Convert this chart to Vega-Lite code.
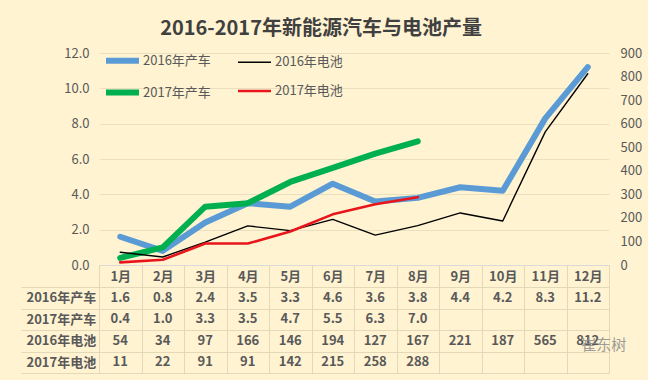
{
  "$schema": "https://vega.github.io/schema/vega-lite/v6.json",
  "background": "#FFF3D2",
  "padding": {"left": 20, "top": 19, "right": 6, "bottom": 6},
  "title": {"text": "2016-2017年新能源汽车与电池产量", "fontSize": 20, "font": "Noto Sans CJK SC", "fontWeight": "bold", "color": "#404040", "anchor": "middle", "offset": 2, "dx": -10},
  "datasets": {
    "d": [
      {"month": "1月", "series": "2016年产车", "value": 1.6},
      {"month": "2月", "series": "2016年产车", "value": 0.8},
      {"month": "3月", "series": "2016年产车", "value": 2.4},
      {"month": "4月", "series": "2016年产车", "value": 3.5},
      {"month": "5月", "series": "2016年产车", "value": 3.3},
      {"month": "6月", "series": "2016年产车", "value": 4.6},
      {"month": "7月", "series": "2016年产车", "value": 3.6},
      {"month": "8月", "series": "2016年产车", "value": 3.8},
      {"month": "9月", "series": "2016年产车", "value": 4.4},
      {"month": "10月", "series": "2016年产车", "value": 4.2},
      {"month": "11月", "series": "2016年产车", "value": 8.3},
      {"month": "12月", "series": "2016年产车", "value": 11.2},
      {"month": "1月", "series": "2017年产车", "value": 0.4},
      {"month": "2月", "series": "2017年产车", "value": 1.0},
      {"month": "3月", "series": "2017年产车", "value": 3.3},
      {"month": "4月", "series": "2017年产车", "value": 3.5},
      {"month": "5月", "series": "2017年产车", "value": 4.7},
      {"month": "6月", "series": "2017年产车", "value": 5.5},
      {"month": "7月", "series": "2017年产车", "value": 6.3},
      {"month": "8月", "series": "2017年产车", "value": 7.0},
      {"month": "1月", "series": "2016年电池", "value": 54},
      {"month": "2月", "series": "2016年电池", "value": 34},
      {"month": "3月", "series": "2016年电池", "value": 97},
      {"month": "4月", "series": "2016年电池", "value": 166},
      {"month": "5月", "series": "2016年电池", "value": 146},
      {"month": "6月", "series": "2016年电池", "value": 194},
      {"month": "7月", "series": "2016年电池", "value": 127},
      {"month": "8月", "series": "2016年电池", "value": 167},
      {"month": "9月", "series": "2016年电池", "value": 221},
      {"month": "10月", "series": "2016年电池", "value": 187},
      {"month": "11月", "series": "2016年电池", "value": 565},
      {"month": "12月", "series": "2016年电池", "value": 812},
      {"month": "1月", "series": "2017年电池", "value": 11},
      {"month": "2月", "series": "2017年电池", "value": 22},
      {"month": "3月", "series": "2017年电池", "value": 91},
      {"month": "4月", "series": "2017年电池", "value": 91},
      {"month": "5月", "series": "2017年电池", "value": 142},
      {"month": "6月", "series": "2017年电池", "value": 215},
      {"month": "7月", "series": "2017年电池", "value": 258},
      {"month": "8月", "series": "2017年电池", "value": 288}
    ]
  },
  "data": {"name": "d"},
  "spacing": 22,
  "bounds": "flush",
  "vconcat": [
    {
      "width": 510,
      "height": 212,
      "encoding": {
        "x": {"field": "month", "type": "nominal", "sort": ["1月","2月","3月","4月","5月","6月","7月","8月","9月","10月","11月","12月"],
          "scale": {"paddingInner": 0, "paddingOuter": 0},
          "axis": {"labels": false, "ticks": false, "title": null, "grid": false, "domainColor": "#D9D9D9", "minExtent": 0, "maxExtent": 0}}
      },
      "layer": [
        {
          "transform": [{"filter": {"field": "series", "oneOf": ["2016年产车", "2017年产车"]}}],
          "mark": {"type": "line", "strokeCap": "round", "strokeJoin": "round"},
          "encoding": {
            "y": {"field": "value", "type": "quantitative", "scale": {"domain": [0, 12], "nice": false},
              "axis": {"title": null, "values": [0,2,4,6,8,10,12], "format": ".1f", "grid": true, "gridColor": "#EADFBE", "domain": false, "ticks": false, "labelPadding": 10}},
            "color": {"field": "series", "type": "nominal",
              "scale": {"domain": ["2016年产车", "2017年产车", "2016年电池", "2017年电池"], "range": ["#5B9BD5", "#00B050", "#000000", "#E8161B"]},
              "legend": {"title": null, "values": ["2016年产车", "2017年产车", "2016年电池", "2017年电池"]}},
            "strokeWidth": {"field": "series", "type": "nominal",
              "scale": {"type": "ordinal", "domain": ["2016年产车", "2017年产车", "2016年电池", "2017年电池"], "range": [6, 6, 1.4, 2.6]},
              "legend": {"title": null, "values": ["2016年产车", "2017年产车", "2016年电池", "2017年电池"]}}
          }
        },
        {
          "transform": [{"filter": {"field": "series", "oneOf": ["2016年电池", "2017年电池"]}}],
          "mark": {"type": "line", "strokeCap": "round", "strokeJoin": "round"},
          "encoding": {
            "y": {"field": "value", "type": "quantitative", "scale": {"domain": [0, 900], "nice": false},
              "axis": {"title": null, "orient": "right", "values": [0,100,200,300,400,500,600,700,800,900], "format": "d", "grid": false, "domain": false, "ticks": false, "labelPadding": 11}},
            "color": {"field": "series", "type": "nominal",
              "scale": {"domain": ["2016年产车", "2017年产车", "2016年电池", "2017年电池"], "range": ["#5B9BD5", "#00B050", "#000000", "#E8161B"]},
              "legend": {"title": null, "values": ["2016年产车", "2017年产车", "2016年电池", "2017年电池"]}},
            "strokeWidth": {"field": "series", "type": "nominal",
              "scale": {"type": "ordinal", "domain": ["2016年产车", "2017年产车", "2016年电池", "2017年电池"], "range": [6, 6, 1.4, 2.6]},
              "legend": {"title": null, "values": ["2016年产车", "2017年产车", "2016年电池", "2017年电池"]}}
          }
        }
      ],
      "resolve": {"scale": {"y": "independent"}}
    },
    {
      "width": 510,
      "height": 86,
      "encoding": {
        "x": {"field": "month", "type": "nominal", "sort": ["1月","2月","3月","4月","5月","6月","7月","8月","9月","10月","11月","12月"],
          "scale": {"domain": ["1月","2月","3月","4月","5月","6月","7月","8月","9月","10月","11月","12月"], "paddingInner": 0, "paddingOuter": 0},
          "axis": {"orient": "top", "title": null, "labelAngle": 0, "tickBand": "extent", "tickSize": 22, "tickColor": "#E3D8B8", "domain": false, "labelPadding": -18, "grid": true, "gridColor": "#E3D8B8", "labelFontWeight": "bold"}},
        "y": {"field": "series", "type": "nominal",
          "scale": {"domain": ["2016年产车", "2017年产车", "2016年电池", "2017年电池"], "paddingInner": 0, "paddingOuter": 0},
          "axis": {"title": null, "tickBand": "extent", "tickSize": 78, "tickColor": "#E3D8B8", "grid": true, "gridColor": "#E3D8B8", "domain": true, "domainColor": "#E3D8B8", "labelAlign": "left", "labelPadding": -5, "labelFontWeight": "bold"}}
      },
      "layer": [
        {
          "transform": [{"filter": {"field": "series", "oneOf": ["2016年产车", "2017年产车"]}}],
          "mark": {"type": "text", "font": "Noto Sans CJK SC", "fontSize": 13, "fontWeight": "bold", "color": "#595959"},
          "encoding": {"text": {"field": "value", "type": "quantitative", "format": ".1f"}}
        },
        {
          "transform": [{"filter": {"field": "series", "oneOf": ["2016年电池", "2017年电池"]}}],
          "mark": {"type": "text", "font": "Noto Sans CJK SC", "fontSize": 13, "fontWeight": "bold", "color": "#595959"},
          "encoding": {"text": {"field": "value", "type": "quantitative", "format": "d"}}
        },
        {
          "data": {"values": [{"t": "崔东树"}]},
          "mark": {"type": "text", "font": "Noto Sans CJK SC", "fontSize": 15, "color": "#8C8C8C", "opacity": 0.85, "dx": 16, "dy": 4},
          "encoding": {"x": {"datum": "12月"}, "y": {"datum": "2016年电池"}, "text": {"field": "t"}}
        }
      ]
    }
  ],
  "config": {
    "font": "Noto Sans CJK SC",
    "view": {"stroke": null},
    "axis": {"labelFont": "Noto Sans CJK SC", "labelColor": "#595959", "labelFontSize": 13},
    "legend": {"orient": "none", "legendX": 4, "legendY": -12, "columns": 2, "columnPadding": 21, "rowPadding": -16, "symbolType": "stroke", "symbolSize": 1089, "labelOffset": 1, "labelFontSize": 13, "labelColor": "#595959", "labelFont": "Noto Sans CJK SC"}
  }
}
